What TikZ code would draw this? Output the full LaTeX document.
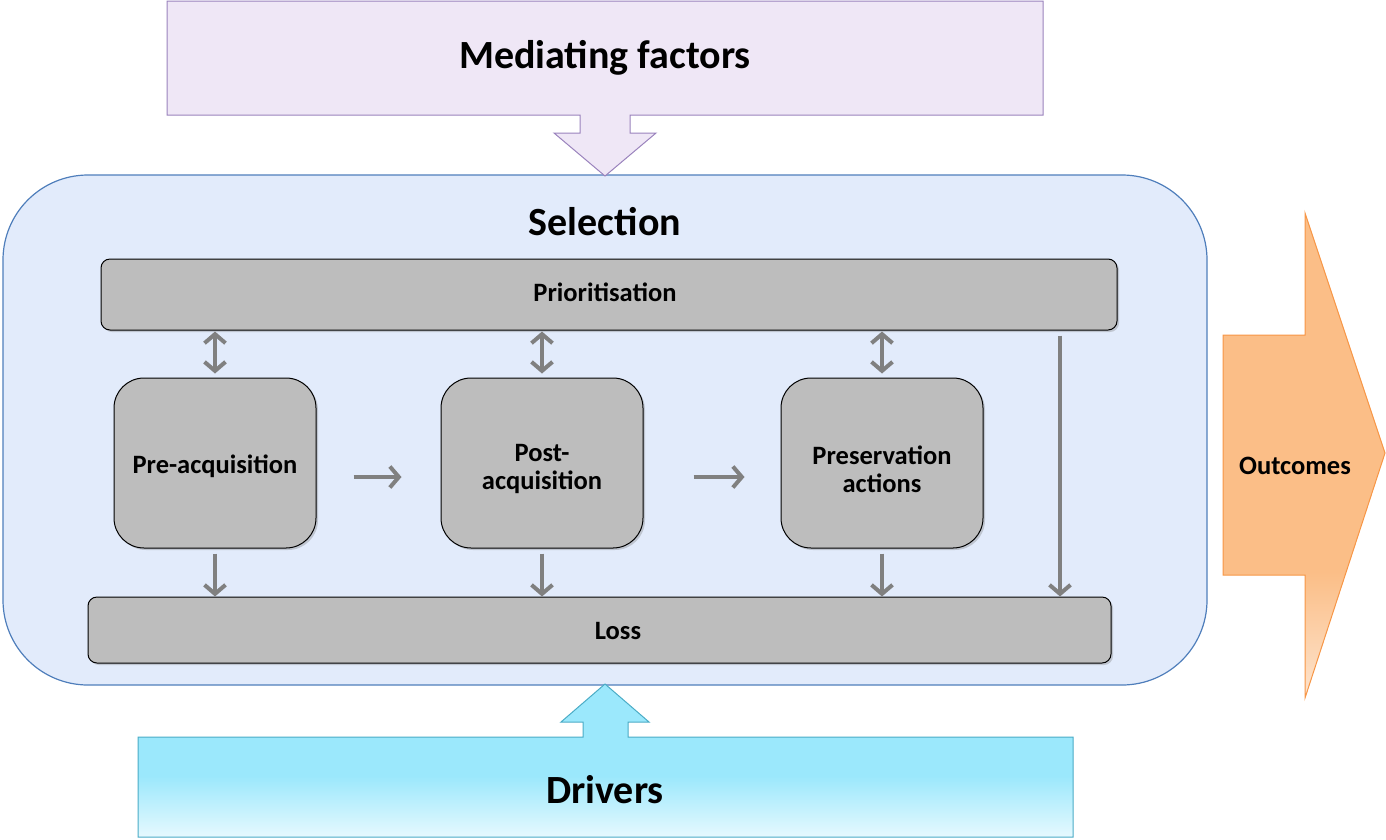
\documentclass[tikz,border=0pt]{standalone}
\usepackage{fontspec}
\setmainfont{Carlito}
\usetikzlibrary{arrows.meta,shadows}

\definecolor{medfill}{HTML}{EFE7F6}
\definecolor{medline}{HTML}{9A83BD}
\definecolor{selfill}{HTML}{E2EBFB}
\definecolor{selline}{HTML}{4F7EBB}
\definecolor{boxfill}{HTML}{BDBDBD}
\definecolor{arrgray}{HTML}{808080}
\definecolor{outfill}{HTML}{FBBE87}
\definecolor{outlight}{HTML}{FDE4CE}
\definecolor{outedge}{HTML}{F79646}
\definecolor{drvfill}{HTML}{9BE8FC}
\definecolor{drvlight}{HTML}{E6F9FE}
\definecolor{drvedge}{HTML}{4BACC6}

\pgfdeclareverticalshading{outshade}{100bp}{color(0bp)=(outlight); color(25bp)=(outlight);
  color(38bp)=(outfill); color(100bp)=(outfill)}
\pgfdeclareverticalshading{drvshade}{100bp}{color(0bp)=(drvlight); color(25bp)=(drvlight);
  color(45bp)=(drvfill); color(100bp)=(drvfill)}

\begin{document}
\begin{tikzpicture}[x=1pt, y=-1pt,
                    box/.style={draw=black, fill=boxfill, rounded corners=9pt, line width=1pt,
                                drop shadow={shadow xshift=2pt, shadow yshift=-2pt, opacity=0.35}},
                    stage/.style={box, rounded corners=30pt, minimum width=202pt, minimum height=170pt},
                    boxtext/.style={font=\bfseries\fontsize{26.5}{28}\selectfont, align=center},
                    tip/.tip={Straight Barb[length=9pt, width=21pt]},
                    link/.style={draw=arrgray, line width=4pt, -tip},
                    twoway/.style={draw=arrgray, line width=4pt, tip-tip},
                    biglabel/.style={font=\bfseries\fontsize{40}{48}\selectfont}
]
\useasboundingbox (0,0) rectangle (1386,839);

\node [draw=selline, fill=selfill, rounded corners=85pt, line width=1.2pt,
       minimum width=1204pt, minimum height=510pt] at (605,430) (sel) {};
\node [biglabel] at (605,222) (seltitle) {Selection};
%
\draw [medline, fill=medfill, line width=1pt] (167,1) -- (1043,1) -- (1043,115) -- (630,115) -- (630,133)
      -- (656,133) -- (605,176) -- (554,133) -- (580,133) -- (580,115) -- (167,115) -- cycle;
\node [biglabel] at (605,58) (med) {Mediating factors};
%
\path [draw=drvedge, line width=1pt, shading=drvshade]
      (138,737) -- (583,737) -- (583,722) -- (561,722) -- (605,684) -- (649,722) -- (628,722)
      -- (628,737) -- (1073,737) -- (1073,837) -- (138,837) -- cycle;
\node [biglabel] at (605,790) (drv) {Drivers};
%
\path [draw=outedge, line width=1pt, shading=outshade]
      (1223,335) -- (1305,335) -- (1305,213) -- (1385,453) -- (1305,698) -- (1305,575) -- (1223,575) -- cycle;
\node [boxtext] at (1295,466) (out) {Outcomes};
%
\node [box, minimum width=1016pt, minimum height=71pt] at (609,294.5) (prio) {};
\node [boxtext] at (605,292) (priotext) {Prioritisation};
\node [box, minimum width=1023pt, minimum height=66pt] at (599.5,630) (loss) {};
\node [boxtext] at (618,631) (losstext) {Loss};
\node [stage] at (215,463) (pre) {};
\node [stage] at (542,463) (post) {};
\node [stage] at (882,463) (pres) {};
\node [boxtext] at (215,466) (pretext) {Pre-acquisition};
\node [boxtext] at (542,469) (posttext) {Post-\\acquisition};
\node [boxtext] at (882,469) (prestext) {Preservation\\actions};
%
\draw [twoway, shorten <=1pt, shorten >=4pt] (pre.north |- prio.south) -- (pre.north);
\draw [twoway, shorten <=1pt, shorten >=4pt] (post.north |- prio.south) -- (post.north);
\draw [twoway, shorten <=1pt, shorten >=4pt] (pres.north |- prio.south) -- (pres.north);
%
\draw [link, shorten <=5pt] (pre.south) -- (pre.south |- loss.north);
\draw [link, shorten <=5pt] (post.south) -- (post.south |- loss.north);
\draw [link, shorten <=5pt] (pres.south) -- (pres.south |- loss.north);
\draw [link, shorten <=5pt] (prio.south -| 1060,0) -- (loss.north -| 1060,0);
%
\draw [link, shorten <=37pt, shorten >=39pt] (pre.east |- 0,477) -- (post.west |- 0,477);
\draw [link, shorten <=50pt, shorten >=36pt] (post.east |- 0,477) -- (pres.west |- 0,477);
\end{tikzpicture}
\end{document}
